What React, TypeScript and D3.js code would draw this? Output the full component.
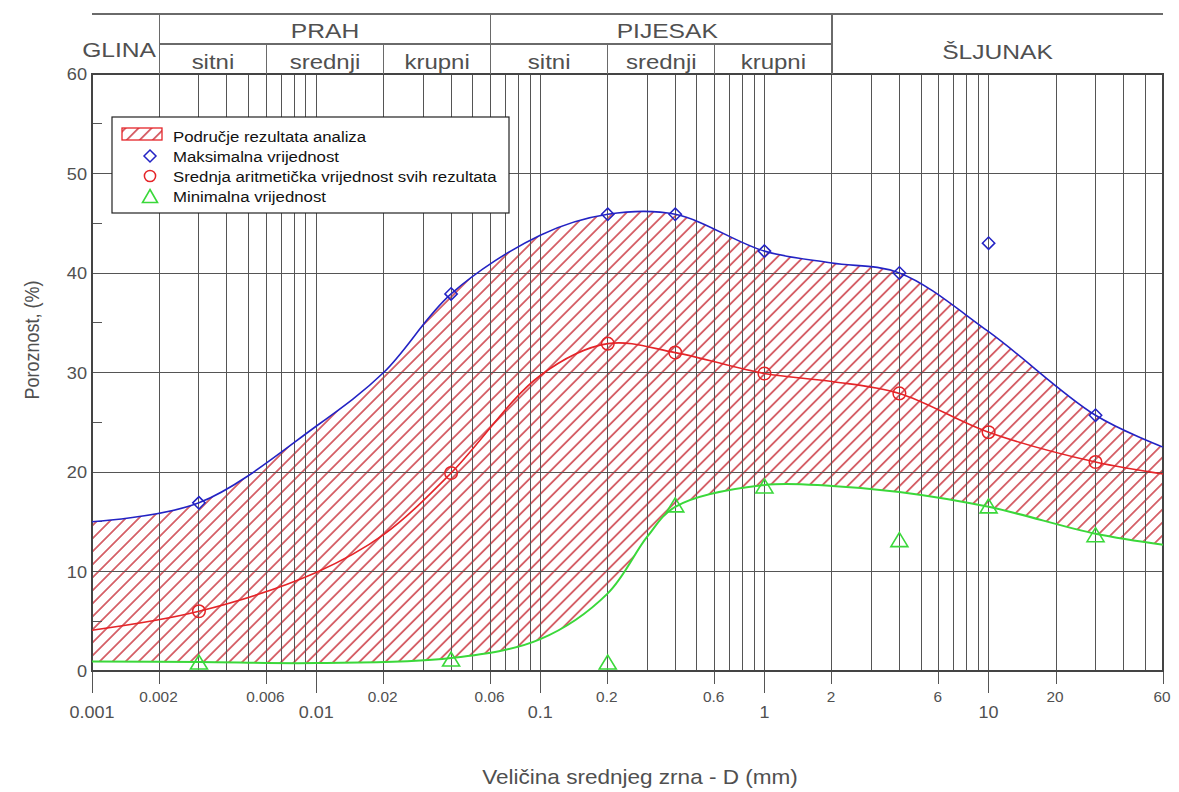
import React from "react";
import * as d3 from "d3";

// measured sample sizes (mm) and porosity values (%)
const sampleD = [0.003, 0.04, 0.2, 0.4, 1, 4, 10, 30];
const maxVals = [16.9, 37.9, 45.9, 45.9, 42.2, 40, 43, 25.7];
const meanVals = [6, 19.9, 32.9, 32, 29.9, 27.9, 24, 21];
const minVals = [0.9, 1.2, 0.9, 16.7, 18.6, 13.2, 16.6, 13.7];

// fitted curves
const maxCurveD = [0.001, 0.003, 0.01, 0.02, 0.04, 0.1, 0.2, 0.4, 1, 2, 4, 10, 30, 60];
const maxCurveV = [15, 16.9, 24.6, 30.0, 37.9, 43.8, 45.9, 45.9, 42.2, 41, 40, 34.1, 25.7, 22.5];
const meanCurveD = [0.001, 0.003, 0.01, 0.02, 0.04, 0.1, 0.2, 0.4, 1, 2, 4, 10, 30, 60];
const meanCurveV = [4.1, 6, 9.9, 13.7, 19.9, 29.7, 32.9, 32, 29.9, 29.1, 27.9, 24, 21, 19.8];
const minCurveD = [0.001, 0.003, 0.01, 0.04, 0.1, 0.2, 0.3, 0.4, 1, 2, 4, 10, 30, 60];
const minCurveV = [0.95, 0.9, 0.8, 1.3, 3.2, 7.8, 13.5, 16.5, 18.7, 18.6, 18, 16.5, 13.8, 12.7];

const yTicks = [0, 10, 20, 30, 40, 50, 60];
const yMinorTicks = [5, 15, 25, 35, 45, 55];
const xMajorLabels = ["0.001", "0.01", "0.1", "1", "10"];
const xMinorLabels = ["0.002", "0.006", "0.02", "0.06", "0.2", "0.6", "2", "6", "20", "60"];

const mainNames = ["GLINA", "PRAH", "PIJESAK", "ŠLJUNAK"];
const mainBounds = [0.001, 0.002, 0.06, 2, 60];
const subNames = ["sitni", "srednji", "krupni"];
const prahBounds = [0.002, 0.006, 0.02, 0.06];
const pijesakBounds = [0.06, 0.2, 0.6, 2];

const legendLabels = [
  "Područje rezultata analiza",
  "Maksimalna vrijednost",
  "Srednja aritmetička vrijednost svih rezultata",
  "Minimalna vrijednost",
];

const W = 1179;
const H = 792;
const FONT = "'Liberation Sans', Arial, sans-serif";
const BLUE = "#2323c4";
const RED = "#e52428";
const GREEN = "#3ad83a";
const HATCH = "#c82d37";
const GRID = "#555";
const TXT = "#505050";

// text with horizontal stretch (the source looks a bit wide)
const T = ({ x, y, s = 1, anchor = "middle", size, fill = TXT, children }: any) => (
  <g transform={`translate(${x},${y}) scale(${s},1)`}>
    <text textAnchor={anchor} fontSize={size} fill={fill} fontFamily={FONT}>
      {children}
    </text>
  </g>
);

const diamond = (r: number) => `M0,${-r}L${r},0L0,${r}L${-r},0Z`;
const triangle = (w: number, h: number) => `M0,${-h / 2}L${w / 2},${h / 2}L${-w / 2},${h / 2}Z`;

export default function App() {
  const x = d3.scaleLog().domain([0.001, 60]).range([92, 1163]);
  const y = d3.scaleLinear().domain([0, 60]).range([671, 74]);
  const [x0, x1] = x.range();
  const [yb, yt] = y.range();

  const pts = (ds: number[], vs: number[]) => ds.map((d, i) => [d, vs[i]] as [number, number]);
  const maxPts = pts(maxCurveD, maxCurveV);
  const meanPts = pts(meanCurveD, meanCurveV);
  const minPts = pts(minCurveD, minCurveV);

  const curve = d3.curveCatmullRom.alpha(0.5);

  const line = d3
    .line<[number, number]>()
    .x((d) => x(d[0]))
    .y((d) => y(d[1]))
    .curve(curve);

  const underMax = d3
    .area<[number, number]>()
    .x((d) => x(d[0]))
    .y0(yb)
    .y1((d) => y(d[1]))
    .curve(curve);

  const aboveMin = d3
    .area<[number, number]>()
    .x((d) => x(d[0]))
    .y0((d) => y(d[1]))
    .y1(yt)
    .curve(curve);

  // vertical grid: 1..9 x 10^k
  const gridX: number[] = [];
  for (let k = -3; k <= 1; k++) {
    for (let m = 1; m <= 9; m++) {
      const v = +(m * Math.pow(10, k)).toPrecision(3);
      if (v <= 60) gridX.push(v);
    }
  }

  const subCells = (bounds: number[]) =>
    subNames.map((n, i) => ({ name: n, a: bounds[i], b: bounds[i + 1] }));

  return (
    <svg
      width={W}
      height={H}
      style={{ position: "absolute", left: 0, top: 0, background: "#fff" }}
      fontFamily={FONT}
    >
      <defs>
        <pattern id="hatch" patternUnits="userSpaceOnUse" width={9.2} height={9.2} patternTransform="rotate(45)">
          <line x1={4.6} y1={-1} x2={4.6} y2={10.2} stroke={HATCH} strokeWidth={1.4} />
        </pattern>
        <clipPath id="underMax">
          <path d={underMax(maxPts) || ""} />
        </clipPath>
      </defs>
      <rect width={W} height={H} fill="#fff" />

      {/* hatched range of results */}
      <path d={aboveMin(minPts) || ""} fill="url(#hatch)" clipPath="url(#underMax)" />

      {/* grid */}
      <g stroke={GRID} strokeWidth={1} shapeRendering="crispEdges">
        {gridX.map((v) => (
          <line key={"gx" + v} x1={x(v)} x2={x(v)} y1={yt} y2={yb} />
        ))}
        {yTicks.slice(1, -1).map((v) => (
          <line key={"gy" + v} x1={x0} x2={x1} y1={y(v)} y2={y(v)} />
        ))}
        {yMinorTicks.map((v) => (
          <line key={"my" + v} x1={x0} x2={x0 + 10} y1={y(v)} y2={y(v)} />
        ))}
        {xMajorLabels.map((s) => (
          <line key={"tM" + s} x1={x(+s)} x2={x(+s)} y1={yb} y2={yb + 22} />
        ))}
        {xMinorLabels.map((s) => (
          <line key={"tm" + s} x1={x(+s)} x2={x(+s)} y1={yb} y2={yb + 13} />
        ))}
      </g>
      <rect x={x0} y={yt} width={x1 - x0} height={yb - yt} fill="none" stroke="#444" strokeWidth={1.3} shapeRendering="crispEdges" />

      {/* header table */}
      <g stroke="#6a6a6a" strokeWidth={1.3} shapeRendering="crispEdges">
        <line x1={x0} x2={x1} y1={14} y2={14} />
        <line x1={x(0.002)} x2={x(2)} y1={44} y2={44} />
        {mainBounds.slice(1, -1).map((b) => (
          <line key={"hb" + b} x1={x(b)} x2={x(b)} y1={14} y2={yt} />
        ))}
        {[...prahBounds.slice(1, -1), ...pijesakBounds.slice(1, -1)].map((b) => (
          <line key={"sb" + b} x1={x(b)} x2={x(b)} y1={44} y2={yt} />
        ))}
      </g>
      <T x={156} y={57} s={1.2} size={20.5} anchor="end">{mainNames[0]}</T>
      <T x={(x(mainBounds[1]) + x(mainBounds[2])) / 2} y={38} s={1.2} size={20.5}>{mainNames[1]}</T>
      <T x={(x(mainBounds[2]) + x(mainBounds[3])) / 2 + 6} y={38} s={1.2} size={20.5}>{mainNames[2]}</T>
      <T x={(x(mainBounds[3]) + x(mainBounds[4])) / 2} y={59} s={1.2} size={20.5}>{mainNames[3]}</T>
      {[...subCells(prahBounds), ...subCells(pijesakBounds)].map((c, i) => (
        <T key={"sc" + i} x={(x(c.a) + x(c.b)) / 2} y={69} s={1.2} size={20}>
          {c.name}
        </T>
      ))}

      {/* tick labels */}
      {yTicks.map((v) => (
        <T key={"yl" + v} x={87} y={y(v) + 6} s={1.07} size={17} anchor="end">
          {v}
        </T>
      ))}
      {xMajorLabels.map((s) => (
        <T key={"xl" + s} x={x(+s)} y={718} s={1.06} size={17}>
          {s}
        </T>
      ))}
      {xMinorLabels.map((s) => (
        <T key={"xm" + s} x={x(+s) - 1} y={702} s={1.06} size={14.5}>
          {s}
        </T>
      ))}

      {/* axis titles */}
      <g transform="translate(39,340) rotate(-90) scale(1,1.15)">
        <text textAnchor="middle" fontSize={18} fill={TXT} fontFamily={FONT}>
          Poroznost, (%)
        </text>
      </g>
      <T x={640} y={784} s={1.1} size={20.5}>Veličina srednjeg zrna - D (mm)</T>

      {/* curves */}
      <path d={line(maxPts) || ""} fill="none" stroke={BLUE} strokeWidth={1.6} />
      <path d={line(meanPts) || ""} fill="none" stroke={RED} strokeWidth={1.6} />
      <path d={line(minPts) || ""} fill="none" stroke={GREEN} strokeWidth={2} />

      {/* markers */}
      {sampleD.map((d, i) => (
        <path key={"mx" + i} d={diamond(6.2)} transform={`translate(${x(d)},${y(maxVals[i])})`} fill="none" stroke={BLUE} strokeWidth={1.5} />
      ))}
      {sampleD.map((d, i) => (
        <circle key={"mn" + i} cx={x(d)} cy={y(meanVals[i])} r={6.3} fill="none" stroke={RED} strokeWidth={1.5} />
      ))}
      {sampleD.map((d, i) => (
        <path key={"mi" + i} d={triangle(17, 14)} transform={`translate(${x(d)},${y(minVals[i])})`} fill="none" stroke={GREEN} strokeWidth={1.6} />
      ))}

      {/* legend */}
      <g>
        <rect x={112} y={117} width={397} height={96} fill="#fff" stroke="#222" strokeWidth={1.2} />
        <rect x={122} y={128} width={40} height={12} fill="url(#hatch)" stroke={RED} strokeWidth={1.3} />
        <path d={diamond(6)} transform="translate(150,156)" fill="none" stroke={BLUE} strokeWidth={1.5} />
        <circle cx={150} cy={176} r={5.6} fill="none" stroke={RED} strokeWidth={1.5} />
        <path d={triangle(15, 13)} transform="translate(150,196)" fill="none" stroke={GREEN} strokeWidth={1.6} />
        {legendLabels.map((l, i) => (
          <T key={"lg" + i} x={173} y={141.5 + i * 20} s={1.12} size={15} anchor="start" fill="#111">
            {l}
          </T>
        ))}
      </g>
    </svg>
  );
}
